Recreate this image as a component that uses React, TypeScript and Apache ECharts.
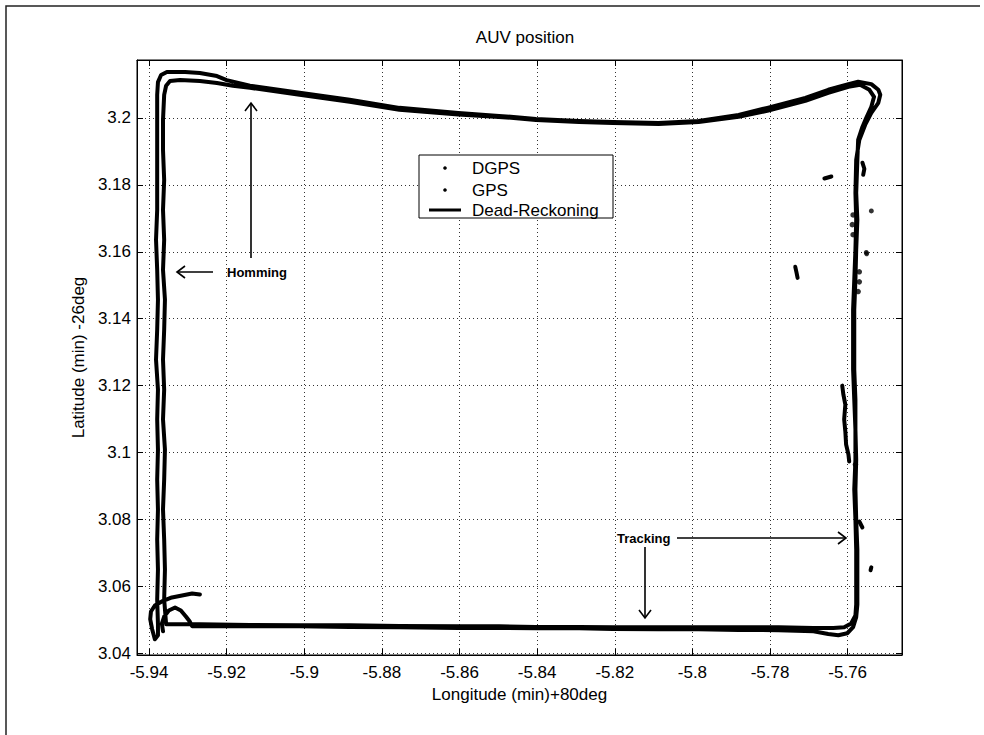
import React, { useEffect, useRef } from "react";
import * as echarts from "echarts";

// Axis extents (minutes)
const xMin = -5.9431;
const xMax = -5.746;
const yMin = 3.0395;
const yMax = 3.2173;

const chartTitle = "AUV position";
const xAxisTitle = "Longitude (min)+80deg";
const yAxisTitle = "Latitude (min) -26deg";
const legendNames = ["DGPS", "GPS", "Dead-Reckoning"];

// Dead-reckoning track, first lap (outer)
const deadReckoningLap1: [number, number][] = [
  [-5.9269, 3.0576], [-5.9289, 3.0579], [-5.9315, 3.0573], [-5.9341, 3.0567], [-5.9367, 3.0555],
  [-5.9385, 3.0543], [-5.9395, 3.0525], [-5.9397, 3.0502], [-5.9392, 3.0472], [-5.9385, 3.0442],
  [-5.9377, 3.0454], [-5.9377, 3.0487],
  [-5.9379, 3.0561], [-5.9377, 3.0651], [-5.9379, 3.074], [-5.9377, 3.083], [-5.9379, 3.0919],
  [-5.9377, 3.1009], [-5.9379, 3.1099], [-5.9377, 3.1188], [-5.9382, 3.1278], [-5.9379, 3.1367],
  [-5.9377, 3.1457], [-5.9379, 3.1546], [-5.9382, 3.1636], [-5.9379, 3.1725], [-5.9379, 3.1815],
  [-5.9379, 3.1904], [-5.9379, 3.1994], [-5.9379, 3.2069], [-5.9377, 3.2107], [-5.9369, 3.2128],
  [-5.9354, 3.2137],
  [-5.9307, 3.2137], [-5.9269, 3.2134], [-5.9225, 3.2125], [-5.92, 3.2113], [-5.914, 3.2096],
  [-5.9012, 3.2075], [-5.8883, 3.2054], [-5.8755, 3.203], [-5.8603, 3.2015], [-5.8498, 3.2006],
  [-5.8403, 3.1997], [-5.8292, 3.1991], [-5.8205, 3.1988], [-5.8087, 3.1985], [-5.7984, 3.1991],
  [-5.7881, 3.2009], [-5.7807, 3.203], [-5.7709, 3.206], [-5.765, 3.2084], [-5.7598, 3.2101],
  [-5.7573, 3.2108], [-5.7539, 3.2101], [-5.7521, 3.2084], [-5.7516, 3.2069], [-5.7521, 3.2045],
  [-5.7539, 3.2015], [-5.7555, 3.1979], [-5.757, 3.1934], [-5.7578, 3.1875], [-5.758, 3.1776],
  [-5.7578, 3.1696], [-5.758, 3.1606], [-5.7583, 3.1516], [-5.7586, 3.1427], [-5.7586, 3.1337],
  [-5.7586, 3.1248], [-5.7583, 3.1158], [-5.758, 3.1069], [-5.758, 3.0979], [-5.7583, 3.089],
  [-5.758, 3.08], [-5.7578, 3.071], [-5.7578, 3.0621], [-5.7578, 3.0546], [-5.758, 3.0513],
  [-5.7591, 3.0489], [-5.7609, 3.0478], [-5.7637, 3.0476], [-5.7688, 3.0476], [-5.7778, 3.0478],
  [-5.7881, 3.0478], [-5.7984, 3.0478], [-5.8087, 3.0478], [-5.8205, 3.0478], [-5.8292, 3.0479],
  [-5.8403, 3.0479], [-5.8498, 3.0481], [-5.8603, 3.0481], [-5.8755, 3.0482], [-5.8883, 3.0484],
  [-5.9012, 3.0484], [-5.914, 3.0485], [-5.9269, 3.0487], [-5.9333, 3.0487], [-5.9356, 3.0487],
];

// Dead-reckoning track, second lap (inner)
const deadReckoningLap2: [number, number][] = [
  [-5.9361, 3.0561], [-5.9359, 3.0651], [-5.9361, 3.074], [-5.9364, 3.083], [-5.9361, 3.0919],
  [-5.9359, 3.1009], [-5.9364, 3.1099], [-5.9361, 3.1188], [-5.9364, 3.1278], [-5.9361, 3.1367],
  [-5.9359, 3.1457], [-5.9364, 3.1546], [-5.9361, 3.1636], [-5.9364, 3.1725], [-5.9361, 3.1815],
  [-5.9364, 3.1904], [-5.9364, 3.1994], [-5.9361, 3.2069], [-5.9356, 3.2096], [-5.9346, 3.211],
  [-5.932, 3.2113], [-5.9269, 3.211], [-5.9225, 3.2104], [-5.9184, 3.2096], [-5.914, 3.209],
  [-5.9012, 3.2069], [-5.8883, 3.2048], [-5.8755, 3.2024], [-5.8603, 3.201], [-5.8498, 3.2003],
  [-5.8403, 3.1994], [-5.8292, 3.1988], [-5.8205, 3.1985], [-5.8087, 3.1982], [-5.7984, 3.1988],
  [-5.7881, 3.2003], [-5.7807, 3.2021], [-5.7709, 3.2051], [-5.765, 3.2075], [-5.7598, 3.2093],
  [-5.7568, 3.2099], [-5.7544, 3.2084], [-5.7532, 3.2063], [-5.7539, 3.2033], [-5.7552, 3.2],
  [-5.7562, 3.1973], [-5.7573, 3.1934], [-5.7575, 3.1875], [-5.7578, 3.1776],
  [-5.7575, 3.1696], [-5.7578, 3.1606], [-5.758, 3.1516], [-5.7583, 3.1427], [-5.7583, 3.1337],
  [-5.7583, 3.1248], [-5.758, 3.1158], [-5.758, 3.1069], [-5.7578, 3.0979], [-5.758, 3.089],
  [-5.7578, 3.08], [-5.7575, 3.071], [-5.7575, 3.0621], [-5.7575, 3.0546], [-5.7578, 3.0508],
  [-5.7586, 3.0478], [-5.7601, 3.046], [-5.7624, 3.0454], [-5.765, 3.0458], [-5.7688, 3.0466],
  [-5.7778, 3.0469], [-5.7881, 3.047], [-5.7984, 3.0472], [-5.8087, 3.0472], [-5.8205, 3.0473],
  [-5.8292, 3.0475], [-5.8403, 3.0475], [-5.8498, 3.0476], [-5.8603, 3.0476], [-5.8755, 3.0478],
  [-5.8883, 3.0479], [-5.9012, 3.0481], [-5.914, 3.0481], [-5.9269, 3.0482], [-5.9289, 3.0481],
  [-5.9295, 3.0495], [-5.9305, 3.051], [-5.9318, 3.0528], [-5.9333, 3.0537], [-5.9349, 3.0528],
  [-5.9361, 3.051], [-5.9367, 3.0489], [-5.9364, 3.0466],
];

// GPS fixes that form short streaks
const gpsStreaks: [number, number][][] = [
  [[-5.766, 3.1819], [-5.7651, 3.1822], [-5.7642, 3.1825]],
  [[-5.7562, 3.1866], [-5.7557, 3.1848], [-5.756, 3.183]],
  [[-5.7735, 3.1555], [-5.7732, 3.1539], [-5.7729, 3.1522]],
  [[-5.7614, 3.12], [-5.7611, 3.1173], [-5.7606, 3.1143], [-5.7609, 3.1099], [-5.7606, 3.1063],
   [-5.7604, 3.1024], [-5.7598, 3.0994], [-5.7596, 3.0973]],
  [[-5.757, 3.0794], [-5.7562, 3.0776]],
  [[-5.7539, 3.0657], [-5.7541, 3.0648]],
];
// isolated GPS fixes
const gpsPoints: [number, number][] = [
  [-5.7539, 3.1722], [-5.7552, 3.1598], [-5.7551, 3.1594],
];
// DGPS fixes (on the track)
const dgpsPoints: [number, number][] = [
  [-5.7586, 3.171], [-5.7588, 3.1681], [-5.7586, 3.1651], [-5.757, 3.154], [-5.757, 3.151],
  [-5.7573, 3.1481], [-5.758, 3.0964],
];

const FONT = "'Liberation Sans', Arial, Helvetica, sans-serif";

const fmt = (v: number) => String(Math.round(v * 1000) / 1000);

export default function App() {
  const ref = useRef<HTMLDivElement>(null);
  useEffect(() => {
    if (!ref.current) return;
    const chart = echarts.init(ref.current, null, { renderer: "svg" });
    const black = "#000";
    const gridLine = { show: true, lineStyle: { color: "#333", width: 1, type: [1, 3] as number[] } };
    const baseAxis = {
      type: "value" as const,
      axisLine: { show: true, lineStyle: { color: black, width: 1 } },
      axisTick: { show: true, inside: true, length: 6, lineStyle: { color: black } },
    };
    const trackStyle = { color: black, width: 4, cap: "round", join: "round" };
    const series: any[] = [
      {
        name: "Dead-Reckoning",
        type: "line",
        data: [...deadReckoningLap1, ...deadReckoningLap2],
        showSymbol: false,
        symbol: "none",
        lineStyle: trackStyle,
        z: 3,
      },
      ...gpsStreaks.map((s) => ({
        name: "GPS",
        type: "line",
        data: s,
        showSymbol: false,
        symbol: "none",
        lineStyle: trackStyle,
        z: 4,
      })),
      {
        name: "GPS",
        type: "scatter",
        data: gpsPoints,
        symbolSize: 5,
        itemStyle: { color: black },
        z: 4,
      },
      {
        name: "DGPS",
        type: "scatter",
        data: dgpsPoints,
        symbolSize: 5.5,
        itemStyle: { color: black },
        z: 4,
      },
    ];
    const arrowStyle = { stroke: black, lineWidth: 1.6, fill: "none" };
    chart.setOption({
      animation: false,
      backgroundColor: "#fff",
      title: {
        text: chartTitle,
        left: 520,
        top: 24,
        textAlign: "center",
        textStyle: { fontSize: 17, fontWeight: "normal", color: black, fontFamily: FONT },
      },
      grid: { left: 137, top: 60, width: 765, height: 595, show: true, borderColor: black, borderWidth: 1, containLabel: false },
      xAxis: [
        {
          ...baseAxis,
          position: "bottom",
          min: xMin,
          max: xMax,
          splitNumber: 10,
          name: xAxisTitle,
          nameLocation: "middle",
          nameGap: 31,
          nameTextStyle: { fontSize: 17, color: black, fontFamily: FONT },
          axisLabel: { show: true, margin: 9, fontSize: 17, color: black, fontFamily: FONT, formatter: fmt, showMinLabel: false, showMaxLabel: false },
          splitLine: gridLine,
        },
        {
          ...baseAxis,
          position: "top",
          min: xMin,
          max: xMax,
          splitNumber: 10,
          axisLabel: { show: false },
          splitLine: { show: false },
        },
      ],
      yAxis: [
        {
          ...baseAxis,
          position: "left",
          min: yMin,
          max: yMax,
          splitNumber: 9,
          name: yAxisTitle,
          nameLocation: "middle",
          nameGap: 33,
          nameTextStyle: { fontSize: 17, color: black, fontFamily: FONT },
          axisLabel: { show: true, margin: 6, fontSize: 17, color: black, fontFamily: FONT, formatter: fmt, showMinLabel: false, showMaxLabel: false },
          splitLine: gridLine,
        },
        {
          ...baseAxis,
          position: "right",
          min: yMin,
          max: yMax,
          splitNumber: 9,
          axisLabel: { show: false },
          splitLine: { show: false },
        },
      ],
      series,
      graphic: [
        // page frame
        { type: "polyline", shape: { points: [[6, 735], [6, 6], [980, 6]] }, style: { stroke: "#222", lineWidth: 1.5, fill: "none" }, z: 50 },
        // legend box
        { type: "rect", shape: { x: 419, y: 155, width: 194, height: 63 }, style: { fill: "#fff", stroke: black, lineWidth: 1 }, z: 100 },
        { type: "circle", shape: { cx: 445, cy: 168, r: 1.8 }, style: { fill: black }, z: 101 },
        { type: "text", x: 472, y: 168, style: { text: legendNames[0], fontSize: 17, fill: black, fontFamily: FONT, verticalAlign: "middle" }, z: 101 },
        { type: "circle", shape: { cx: 445, cy: 190, r: 1.8 }, style: { fill: black }, z: 101 },
        { type: "text", x: 472, y: 190, style: { text: legendNames[1], fontSize: 17, fill: black, fontFamily: FONT, verticalAlign: "middle" }, z: 101 },
        { type: "line", shape: { x1: 429, y1: 210, x2: 461, y2: 210 }, style: { stroke: black, lineWidth: 3 }, z: 101 },
        { type: "text", x: 472, y: 210, style: { text: legendNames[2], fontSize: 17, fill: black, fontFamily: FONT, verticalAlign: "middle" }, z: 101 },
        // Homming annotation
        { type: "text", x: 227, y: 272, style: { text: "Homming", fontSize: 13, fontWeight: "bold", fill: black, fontFamily: FONT, verticalAlign: "middle" }, z: 60 },
        { type: "line", shape: { x1: 213, y1: 272, x2: 177, y2: 272 }, style: arrowStyle, z: 60 },
        { type: "polyline", shape: { points: [[185, 266], [177, 272], [185, 278]] }, style: arrowStyle, z: 60 },
        { type: "line", shape: { x1: 251, y1: 258, x2: 251, y2: 103 }, style: arrowStyle, z: 60 },
        { type: "polyline", shape: { points: [[245, 111], [251, 103], [257, 111]] }, style: arrowStyle, z: 60 },
        // Tracking annotation
        { type: "text", x: 617, y: 538, style: { text: "Tracking", fontSize: 13, fontWeight: "bold", fill: black, fontFamily: FONT, verticalAlign: "middle" }, z: 60 },
        { type: "line", shape: { x1: 677, y1: 538, x2: 846, y2: 538 }, style: arrowStyle, z: 60 },
        { type: "polyline", shape: { points: [[838, 532], [846, 538], [838, 544]] }, style: arrowStyle, z: 60 },
        { type: "line", shape: { x1: 645, y1: 547, x2: 645, y2: 618 }, style: arrowStyle, z: 60 },
        { type: "polyline", shape: { points: [[639, 610], [645, 618], [651, 610]] }, style: arrowStyle, z: 60 },
      ],
    });
    return () => chart.dispose();
  }, []);
  return <div ref={ref} style={{ position: "absolute", left: 0, top: 0, width: 984, height: 735 }} />;
}
